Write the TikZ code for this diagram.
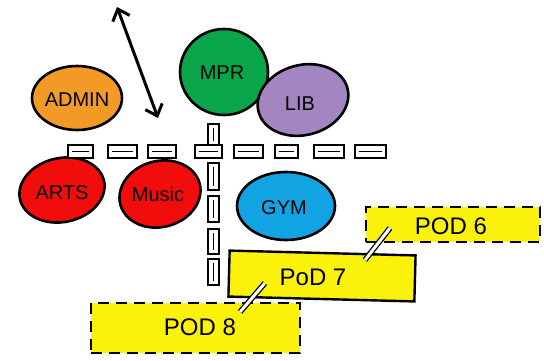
\documentclass[tikz,border=0pt]{standalone}
\usepackage{fontspec}
\setmainfont{Liberation Sans}
\usetikzlibrary{shapes.geometric,arrows.meta,calc}
\definecolor{cadmin}{HTML}{F39A26}
\definecolor{cmpr}{HTML}{08A54A}
\definecolor{clib}{HTML}{A385C2}
\definecolor{cred}{HTML}{F20D0D}
\definecolor{cgym}{HTML}{12A4E2}
\definecolor{cpod}{HTML}{FAF20A}
\tikzset{
  room/.style={ellipse,draw=black,line width=2.6pt,inner sep=0pt},
  lbl/.style={inner sep=1pt,font=\fontsize{20}{20}\selectfont},
  podlbl/.style={inner sep=1pt,font=\fontsize{24}{24}\selectfont},
  podsolid/.style={rectangle,draw=black,fill=cpod,line width=2.4pt,inner sep=0pt},
  poddash/.style={rectangle,draw=black,fill=cpod,line width=2.4pt,dash pattern=on 11pt off 7pt,inner sep=0pt},
  hseg/.style={draw=black,fill=white,line width=1.6pt},
  link/.style={draw=black,line width=1.3pt,double=white,double distance=3pt},
  bigarrow/.style={draw=black,line width=3pt,{Straight Barb[length=10pt,width=18pt]}-{Straight Barb[length=10pt,width=18pt]}}
}
\begin{document}
\begin{tikzpicture}[x=1pt,y=-1pt]
\useasboundingbox (0,0) rectangle (544,360);
% rooms
\node[room,fill=cadmin,minimum width=90pt,minimum height=64pt] (admin) at (77,98) {};
\node[room,fill=cmpr,minimum width=88pt,minimum height=86pt] (mpr) at (224,72) {};
\node[room,fill=clib,minimum width=92pt,minimum height=70pt,rotate=15] (lib) at (303,100) {};
\node[room,fill=cred,minimum width=86pt,minimum height=64pt,rotate=12] (arts) at (62,190) {};
\node[room,fill=cred,minimum width=82pt,minimum height=66pt,rotate=15] (music) at (160,194) {};
\node[room,fill=cgym,minimum width=98pt,minimum height=68pt] (gym) at (286,206) {};
\node[lbl] (tadmin) at (77,100) {ADMIN};
\node[lbl] (tmpr) at (222,73) {MPR};
\node[lbl] (tlib) at (300,104) {LIB};
\node[lbl] (tarts) at (62,193) {ARTS};
\node[lbl] (tmusic) at (158,194) {Music};
\node[lbl] (tgym) at (284,208) {GYM};
% arrow
\coordinate (atop) at (117,7);
\coordinate (abot) at (158,118);
\draw[bigarrow] (atop) -- (abot);
% horizontal track
\foreach \xa/\xb in {68/93,108/137,148/176,195/222,234/263,275/298,314/344,355/386}{
  \draw[hseg] (\xa,145) rectangle (\xb,158);
  \draw[black,line width=1.2pt] (\xa+4,151.5) -- (\xb-4,151.5);
}
% vertical track
\foreach \ya/\yb in {124/145,163/190,196/222,229/254,259/285}{
  \draw[hseg] (208,\ya) rectangle (219,\yb);
  \draw[black,line width=1.2pt] (213.5,\ya+4) -- (213.5,\yb-4);
}
% pods
\node[poddash,minimum width=174pt,minimum height=35pt] (pod6) at (453,224.5) {};
\node[poddash,minimum width=209pt,minimum height=50pt] (pod8) at (195.5,328) {};
\node[podsolid,minimum width=186pt,minimum height=46pt,rotate=-1.5] (pod7) at (322,276) {};
\node[podlbl] (t6) at (451,226) {POD 6};
\node[podlbl] (t7) at (313,277) {PoD 7};
\node[podlbl] (t8) at (200,327) {POD 8};
% links
\coordinate (l7a) at (365,260);
\coordinate (l6a) at (390,228);
\coordinate (l8a) at (240,312);
\coordinate (l7b) at (265,283);
\draw[link] (l7a) -- (l6a);
\draw[link] (l8a) -- (l7b);
\end{tikzpicture}
\end{document}
